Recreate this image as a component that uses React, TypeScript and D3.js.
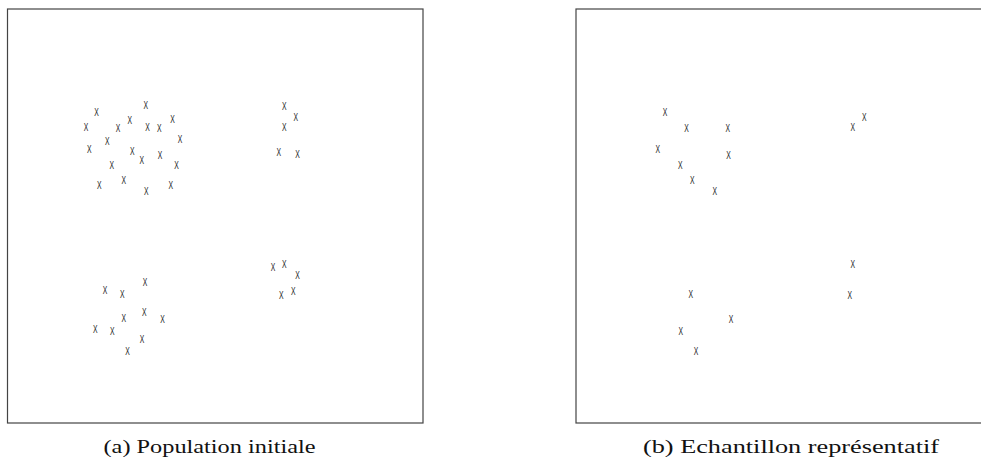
import * as d3 from "d3";

// coordonnees (unites du cadre, 0..10, y vers le haut)
const clusterHautGauche: [number, number][] = [
  [2.14, 7.5], [1.89, 7.16], [3.33, 7.69], [2.94, 7.31], [2.66, 7.13],
  [3.37, 7.15], [3.65, 7.12], [3.97, 7.35], [2.4, 6.82], [4.15, 6.86],
  [1.97, 6.62], [3.0, 6.56], [3.23, 6.34], [3.67, 6.47], [2.51, 6.23],
  [4.07, 6.23], [2.21, 5.74], [2.8, 5.88], [3.34, 5.6], [3.93, 5.74],
];
const clusterHautDroite: [number, number][] = [
  [6.66, 7.65], [6.94, 7.38], [6.66, 7.16], [6.53, 6.55], [6.98, 6.49],
];
const clusterBasGauche: [number, number][] = [
  [3.31, 3.4], [2.35, 3.22], [2.76, 3.11], [2.8, 2.53], [3.29, 2.67],
  [3.73, 2.5], [2.11, 2.26], [2.52, 2.22], [3.24, 2.02], [2.89, 1.74],
];
const clusterBasDroite: [number, number][] = [
  [6.39, 3.76], [6.66, 3.83], [6.98, 3.57], [6.59, 3.08], [6.88, 3.19],
];

// indices retenus dans l'echantillon, par cluster
const echHautGauche = [0, 4, 6, 10, 13, 14, 17, 18];
const echHautDroite = [1, 2];
const echBasGauche = [2, 5, 7, 9];
const echBasDroite = [1, 3];

const legendes = ["(a) Population initiale", "(b) Echantillon représentatif"];

const population = [
  ...clusterHautGauche,
  ...clusterHautDroite,
  ...clusterBasGauche,
  ...clusterBasDroite,
];
const echantillon = [
  ...echHautGauche.map((i) => clusterHautGauche[i]),
  ...echHautDroite.map((i) => clusterHautDroite[i]),
  ...echBasGauche.map((i) => clusterBasGauche[i]),
  ...echBasDroite.map((i) => clusterBasDroite[i]),
];

const width = 981;
const height = 465;
const boxW = 415.5;
const boxH = 414;
const top = 9;
const panelsX = [7.5, 576];
// position et largeur des legendes (centre relatif au cadre)
const legendeDx = [202, 215];
const legendeLen = [212, 296];

const xScale = d3.scaleLinear().domain([0, 10]).range([0, boxW]);
const yScale = d3.scaleLinear().domain([0, 10]).range([boxH, 0]);

const Panel = ({ x0, points, label, dx, len }: { x0: number; points: [number, number][]; label: string; dx: number; len: number }) => (
  <g transform={`translate(${x0},${top})`}>
    <rect x={0} y={0} width={boxW} height={boxH} fill="none" stroke="#444" strokeWidth={1.2} />
    {points.map((p, i) => (
      <text
        key={i}
        transform={`translate(${xScale(p[0])},${yScale(p[1])}) scale(0.62,1)`}
        dy="0.36em"
        textAnchor="middle"
        fontFamily="Liberation Sans, Arial, sans-serif"
        fontSize={11}
        fill="#1a1a1a"
      >
        X
      </text>
    ))}
    <text
      x={dx}
      y={boxH + 30}
      textAnchor="middle"
      fontFamily="Liberation Serif, Times New Roman, serif"
      fontSize={19}
      textLength={len}
      lengthAdjust="spacingAndGlyphs"
      fill="#111"
    >
      {label}
    </text>
  </g>
);

export default function App() {
  return (
    <svg
      width={width}
      height={height}
      style={{ position: "absolute", left: 0, top: 0, background: "#fff" }}
    >
      <Panel x0={panelsX[0]} points={population} label={legendes[0]} dx={legendeDx[0]} len={legendeLen[0]} />
      <Panel x0={panelsX[1]} points={echantillon} label={legendes[1]} dx={legendeDx[1]} len={legendeLen[1]} />
    </svg>
  );
}
